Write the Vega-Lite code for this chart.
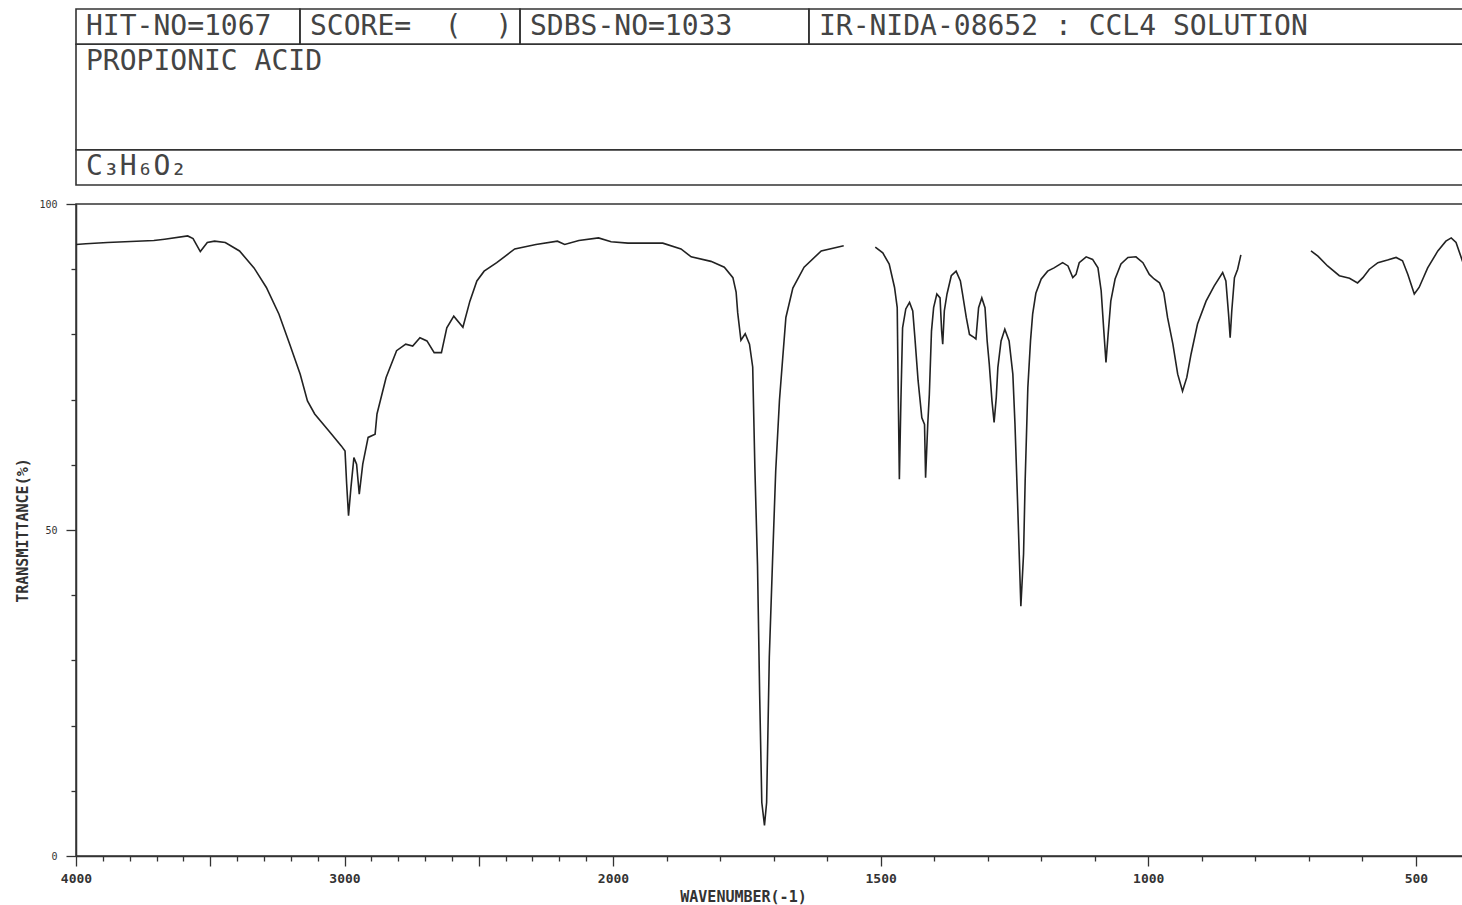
{
  "$schema": "https://vega.github.io/schema/vega-lite/v6.json",
  "padding": {"left": 15, "top": 8, "right": 0, "bottom": 0},
  "autosize": {"type": "pad"},
  "bounds": "flush",
  "spacing": 19,
  "background": "white",
  "config": {"view": {"stroke": null}, "font": "DejaVu Sans Mono"},
  "vconcat": [
    {
      "width": 1387,
      "height": 176,
      "data": {"values": [
        {"r0": 0, "r1": 1, "c0": 0, "c1": 13.24, "label": "HIT-NO=1067"},
        {"r0": 0, "r1": 1, "c0": 13.24, "c1": 26.25, "label": "SCORE=\u00a0\u00a0(\u00a0\u00a0)"},
        {"r0": 0, "r1": 1, "c0": 26.25, "c1": 43.33, "label": "SDBS-NO=1033"},
        {"r0": 0, "r1": 1, "c0": 43.33, "c1": 82, "label": "IR-NIDA-08652 : CCL4 SOLUTION"},
        {"r0": 1, "r1": 4, "c0": 0, "c1": 82, "label": "PROPIONIC ACID"},
        {"r0": 4, "r1": 5, "c0": 0, "c1": 82, "label": "C₃H₆O₂"}
      ]},
      "encoding": {
        "x": {"field": "c0", "type": "quantitative", "scale": {"domain": [0, 82], "nice": false, "zero": false}, "axis": null},
        "y": {"field": "r0", "type": "quantitative", "scale": {"domain": [0, 5], "reverse": true, "nice": false, "zero": false}, "axis": null}
      },
      "layer": [
        {
          "mark": {"type": "rect", "fill": "transparent", "stroke": "#333", "strokeWidth": 1.6},
          "encoding": {"x2": {"field": "c1"}, "y2": {"field": "r1"}}
        },
        {
          "mark": {"type": "text", "align": "left", "baseline": "middle", "dx": 10, "dy": 17.6, "fontSize": 28, "font": "DejaVu Sans Mono", "color": "#444"},
          "encoding": {"text": {"field": "label"}}
        }
      ]
    },
    {
      "width": 1387,
      "height": 652,
      "view": {"stroke": "#333", "strokeWidth": 1.5},
      "data": {"values": [
        {"wn": 4000, "t": 93.8, "s": 1}, {"wn": 3963, "t": 93.9, "s": 1}, {"wn": 3883, "t": 94.1, "s": 1},
        {"wn": 3710, "t": 94.4, "s": 1}, {"wn": 3670, "t": 94.6, "s": 1}, {"wn": 3584, "t": 95.1, "s": 1},
        {"wn": 3564, "t": 94.7, "s": 1}, {"wn": 3537, "t": 92.7, "s": 1}, {"wn": 3511, "t": 94.1, "s": 1},
        {"wn": 3484, "t": 94.3, "s": 1}, {"wn": 3444, "t": 94.1, "s": 1}, {"wn": 3391, "t": 92.8, "s": 1},
        {"wn": 3337, "t": 90.2, "s": 1}, {"wn": 3291, "t": 87.2, "s": 1}, {"wn": 3244, "t": 83.1, "s": 1},
        {"wn": 3204, "t": 78.5, "s": 1}, {"wn": 3165, "t": 73.9, "s": 1}, {"wn": 3138, "t": 69.8, "s": 1},
        {"wn": 3111, "t": 67.8, "s": 1}, {"wn": 3058, "t": 65.2, "s": 1}, {"wn": 3012, "t": 62.9, "s": 1},
        {"wn": 2998, "t": 62.1, "s": 1}, {"wn": 2992, "t": 57.1, "s": 1}, {"wn": 2985, "t": 52.2, "s": 1},
        {"wn": 2976, "t": 56.5, "s": 1}, {"wn": 2965, "t": 61.1, "s": 1}, {"wn": 2955, "t": 60.1, "s": 1},
        {"wn": 2945, "t": 55.5, "s": 1}, {"wn": 2932, "t": 60.1, "s": 1}, {"wn": 2912, "t": 64.2, "s": 1},
        {"wn": 2886, "t": 64.7, "s": 1}, {"wn": 2879, "t": 67.8, "s": 1}, {"wn": 2845, "t": 73.4, "s": 1},
        {"wn": 2806, "t": 77.5, "s": 1}, {"wn": 2772, "t": 78.5, "s": 1}, {"wn": 2746, "t": 78.2, "s": 1},
        {"wn": 2719, "t": 79.5, "s": 1}, {"wn": 2693, "t": 79.0, "s": 1}, {"wn": 2666, "t": 77.2, "s": 1},
        {"wn": 2639, "t": 77.2, "s": 1}, {"wn": 2619, "t": 81.0, "s": 1}, {"wn": 2593, "t": 82.8, "s": 1},
        {"wn": 2559, "t": 81.1, "s": 1}, {"wn": 2533, "t": 85.1, "s": 1}, {"wn": 2507, "t": 88.2, "s": 1},
        {"wn": 2480, "t": 89.7, "s": 1}, {"wn": 2433, "t": 91.0, "s": 1}, {"wn": 2366, "t": 93.1, "s": 1},
        {"wn": 2287, "t": 93.8, "s": 1}, {"wn": 2207, "t": 94.3, "s": 1}, {"wn": 2180, "t": 93.8, "s": 1},
        {"wn": 2127, "t": 94.4, "s": 1}, {"wn": 2054, "t": 94.8, "s": 1}, {"wn": 2007, "t": 94.2, "s": 1},
        {"wn": 1972, "t": 94.0, "s": 1}, {"wn": 1907, "t": 94.0, "s": 1}, {"wn": 1873, "t": 93.1, "s": 1},
        {"wn": 1854, "t": 91.9, "s": 1}, {"wn": 1817, "t": 91.2, "s": 1}, {"wn": 1792, "t": 90.3, "s": 1},
        {"wn": 1776, "t": 88.7, "s": 1}, {"wn": 1770, "t": 86.5, "s": 1}, {"wn": 1767, "t": 83.3, "s": 1},
        {"wn": 1761, "t": 79.1, "s": 1}, {"wn": 1753, "t": 80.1, "s": 1}, {"wn": 1745, "t": 78.5, "s": 1},
        {"wn": 1739, "t": 75.0, "s": 1}, {"wn": 1735, "t": 59.7, "s": 1}, {"wn": 1730, "t": 44.5, "s": 1},
        {"wn": 1726, "t": 24.7, "s": 1}, {"wn": 1722, "t": 8.2, "s": 1}, {"wn": 1717, "t": 4.7, "s": 1},
        {"wn": 1713, "t": 8.2, "s": 1}, {"wn": 1708, "t": 30.5, "s": 1}, {"wn": 1702, "t": 45.1, "s": 1},
        {"wn": 1696, "t": 59.1, "s": 1}, {"wn": 1689, "t": 69.9, "s": 1}, {"wn": 1683, "t": 76.3, "s": 1},
        {"wn": 1677, "t": 82.6, "s": 1}, {"wn": 1664, "t": 87.1, "s": 1}, {"wn": 1643, "t": 90.3, "s": 1},
        {"wn": 1611, "t": 92.8, "s": 1}, {"wn": 1569, "t": 93.6, "s": 1},
        {"wn": 1510, "t": 93.4, "s": 2}, {"wn": 1496, "t": 92.5, "s": 2}, {"wn": 1484, "t": 90.8, "s": 2},
        {"wn": 1474, "t": 87.2, "s": 2}, {"wn": 1469, "t": 84.1, "s": 2}, {"wn": 1467, "t": 70.3, "s": 2},
        {"wn": 1465, "t": 57.8, "s": 2}, {"wn": 1462, "t": 70.3, "s": 2}, {"wn": 1459, "t": 81.0, "s": 2},
        {"wn": 1453, "t": 83.9, "s": 2}, {"wn": 1446, "t": 84.9, "s": 2}, {"wn": 1440, "t": 83.6, "s": 2},
        {"wn": 1436, "t": 79.5, "s": 2}, {"wn": 1430, "t": 72.9, "s": 2}, {"wn": 1423, "t": 67.2, "s": 2},
        {"wn": 1418, "t": 66.2, "s": 2}, {"wn": 1416, "t": 58.0, "s": 2}, {"wn": 1412, "t": 66.2, "s": 2},
        {"wn": 1409, "t": 70.8, "s": 2}, {"wn": 1405, "t": 80.5, "s": 2}, {"wn": 1401, "t": 84.1, "s": 2},
        {"wn": 1395, "t": 86.2, "s": 2}, {"wn": 1389, "t": 85.6, "s": 2}, {"wn": 1386, "t": 80.5, "s": 2},
        {"wn": 1384, "t": 78.5, "s": 2}, {"wn": 1381, "t": 83.6, "s": 2}, {"wn": 1376, "t": 86.2, "s": 2},
        {"wn": 1368, "t": 89.0, "s": 2}, {"wn": 1359, "t": 89.7, "s": 2}, {"wn": 1351, "t": 88.2, "s": 2},
        {"wn": 1347, "t": 86.2, "s": 2}, {"wn": 1340, "t": 82.6, "s": 2}, {"wn": 1334, "t": 80.0, "s": 2},
        {"wn": 1325, "t": 79.5, "s": 2}, {"wn": 1322, "t": 79.3, "s": 2}, {"wn": 1317, "t": 84.1, "s": 2},
        {"wn": 1311, "t": 85.6, "s": 2}, {"wn": 1305, "t": 84.1, "s": 2}, {"wn": 1301, "t": 79.0, "s": 2},
        {"wn": 1297, "t": 75.4, "s": 2}, {"wn": 1292, "t": 69.8, "s": 2}, {"wn": 1288, "t": 66.5, "s": 2},
        {"wn": 1284, "t": 70.3, "s": 2}, {"wn": 1281, "t": 74.9, "s": 2}, {"wn": 1275, "t": 79.0, "s": 2},
        {"wn": 1268, "t": 80.8, "s": 2}, {"wn": 1260, "t": 79.0, "s": 2}, {"wn": 1253, "t": 73.9, "s": 2},
        {"wn": 1249, "t": 66.2, "s": 2}, {"wn": 1244, "t": 53.9, "s": 2}, {"wn": 1238, "t": 38.3, "s": 2},
        {"wn": 1233, "t": 46.3, "s": 2}, {"wn": 1230, "t": 57.5, "s": 2}, {"wn": 1225, "t": 71.8, "s": 2},
        {"wn": 1220, "t": 79.0, "s": 2}, {"wn": 1216, "t": 83.1, "s": 2}, {"wn": 1210, "t": 86.3, "s": 2},
        {"wn": 1200, "t": 88.5, "s": 2}, {"wn": 1188, "t": 89.7, "s": 2}, {"wn": 1176, "t": 90.2, "s": 2},
        {"wn": 1160, "t": 91.0, "s": 2}, {"wn": 1150, "t": 90.5, "s": 2}, {"wn": 1141, "t": 88.7, "s": 2},
        {"wn": 1135, "t": 89.2, "s": 2}, {"wn": 1129, "t": 91.0, "s": 2}, {"wn": 1116, "t": 91.9, "s": 2},
        {"wn": 1104, "t": 91.5, "s": 2}, {"wn": 1094, "t": 90.2, "s": 2}, {"wn": 1088, "t": 86.7, "s": 2},
        {"wn": 1083, "t": 80.5, "s": 2}, {"wn": 1079, "t": 75.7, "s": 2}, {"wn": 1075, "t": 80.0, "s": 2},
        {"wn": 1070, "t": 85.1, "s": 2}, {"wn": 1062, "t": 88.5, "s": 2}, {"wn": 1051, "t": 90.8, "s": 2},
        {"wn": 1038, "t": 91.8, "s": 2}, {"wn": 1023, "t": 91.9, "s": 2}, {"wn": 1010, "t": 91.0, "s": 2},
        {"wn": 998, "t": 89.2, "s": 2}, {"wn": 989, "t": 88.5, "s": 2}, {"wn": 979, "t": 87.9, "s": 2},
        {"wn": 971, "t": 86.4, "s": 2}, {"wn": 964, "t": 82.6, "s": 2}, {"wn": 954, "t": 78.5, "s": 2},
        {"wn": 945, "t": 73.9, "s": 2}, {"wn": 936, "t": 71.3, "s": 2}, {"wn": 928, "t": 73.4, "s": 2},
        {"wn": 920, "t": 77.0, "s": 2}, {"wn": 908, "t": 81.6, "s": 2}, {"wn": 892, "t": 85.1, "s": 2},
        {"wn": 877, "t": 87.4, "s": 2}, {"wn": 861, "t": 89.5, "s": 2}, {"wn": 855, "t": 88.2, "s": 2},
        {"wn": 850, "t": 83.1, "s": 2}, {"wn": 847, "t": 79.5, "s": 2}, {"wn": 844, "t": 83.6, "s": 2},
        {"wn": 839, "t": 88.7, "s": 2}, {"wn": 833, "t": 90.0, "s": 2}, {"wn": 827, "t": 92.2, "s": 2},
        {"wn": 696, "t": 92.8, "s": 3}, {"wn": 683, "t": 92.0, "s": 3}, {"wn": 665, "t": 90.5, "s": 3},
        {"wn": 643, "t": 89.0, "s": 3}, {"wn": 624, "t": 88.6, "s": 3}, {"wn": 609, "t": 87.9, "s": 3},
        {"wn": 599, "t": 88.7, "s": 3}, {"wn": 587, "t": 90.0, "s": 3}, {"wn": 571, "t": 91.0, "s": 3},
        {"wn": 553, "t": 91.4, "s": 3}, {"wn": 537, "t": 91.8, "s": 3}, {"wn": 525, "t": 91.3, "s": 3},
        {"wn": 515, "t": 89.2, "s": 3}, {"wn": 503, "t": 86.2, "s": 3}, {"wn": 494, "t": 87.2, "s": 3},
        {"wn": 478, "t": 90.2, "s": 3}, {"wn": 459, "t": 92.8, "s": 3}, {"wn": 444, "t": 94.3, "s": 3},
        {"wn": 434, "t": 94.8, "s": 3}, {"wn": 425, "t": 94.1, "s": 3}, {"wn": 412, "t": 91.0, "s": 3}
      ]},
      "mark": {"type": "line", "color": "#222", "strokeWidth": 1.6, "interpolate": "linear"},
      "encoding": {
        "x": {
          "field": "wn", "type": "quantitative",
          "scale": {"domain": [4000, 2000, 412], "range": [0, 537, 1387], "nice": false, "zero": false},
          "axis": {
            "values": [4000, 3900, 3800, 3700, 3600, 3500, 3400, 3300, 3200, 3100, 3000, 2900, 2800, 2700, 2600, 2500, 2400, 2300, 2200, 2100, 2000, 1900, 1800, 1700, 1600, 1500, 1400, 1300, 1200, 1100, 1000, 900, 800, 700, 600, 500],
            "format": "d",
            "labelExpr": "indexof([4000, 3000, 2000, 1500, 1000, 500], datum.value) >= 0 ? datum.label : ''",
            "labelOverlap": false,
            "labelFlush": false,
            "labelFont": "DejaVu Sans Mono",
            "labelFontSize": 13,
            "labelFontWeight": "bold",
            "labelColor": "#333",
            "labelPadding": 6,
            "tickSize": {"condition": {"test": "datum.value % 500 === 0", "value": 10}, "value": 5},
            "tickColor": "#333",
            "tickWidth": 1.3,
            "domainColor": "#333",
            "domainWidth": 1.5,
            "grid": false,
            "title": "WAVENUMBER(-1)",
            "titleFont": "DejaVu Sans Mono",
            "titleFontSize": 15,
            "titleFontWeight": "bold",
            "titleColor": "#333",
            "titlePadding": 4,
            "titleX": 667
          }
        },
        "y": {
          "field": "t", "type": "quantitative",
          "scale": {"domain": [0, 100], "nice": false, "zero": false},
          "axis": {
            "values": [0, 10, 20, 30, 40, 50, 60, 70, 80, 90, 100],
            "labelExpr": "datum.value % 50 === 0 ? datum.label : ''",
            "labelOverlap": false,
            "labelFont": "DejaVu Sans Mono",
            "labelFontSize": 10,
            "labelColor": "#333",
            "labelPadding": 9,
            "tickSize": {"condition": {"test": "datum.value % 50 === 0", "value": 10}, "value": 5},
            "tickColor": "#333",
            "tickWidth": 1.3,
            "domainColor": "#333",
            "domainWidth": 1.5,
            "grid": false,
            "title": "TRANSMITTANCE(%)",
            "titleFont": "DejaVu Sans Mono",
            "titleFontSize": 15,
            "titleFontWeight": "bold",
            "titleColor": "#333",
            "titlePadding": 8
          }
        },
        "detail": {"field": "s", "type": "nominal"}
      }
    }
  ]
}
